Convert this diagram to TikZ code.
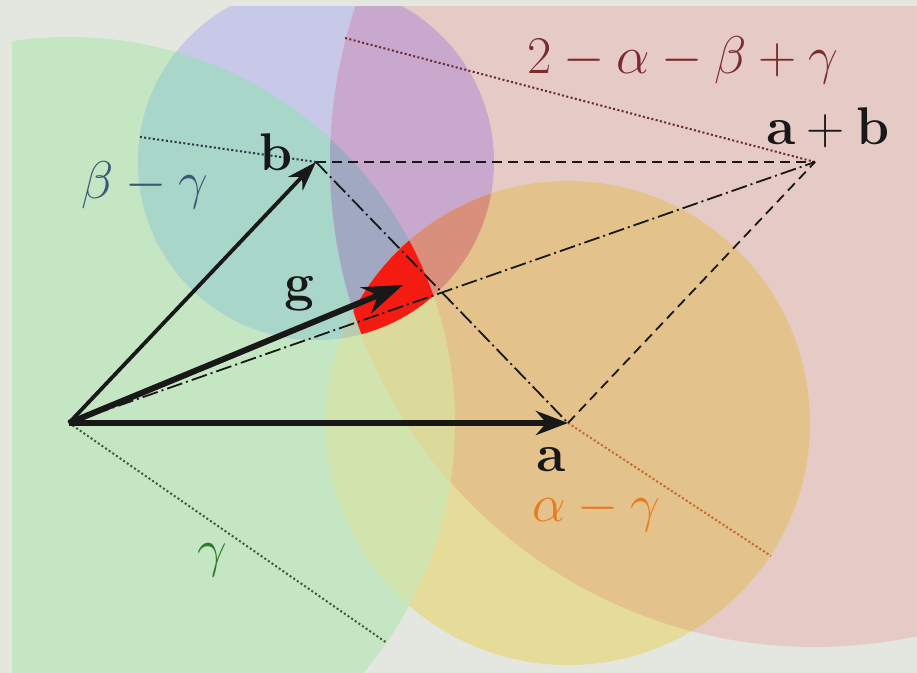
\RequirePackage{fix-cm}
\documentclass[tikz,border=0pt]{standalone}
\usetikzlibrary{arrows.meta}
\definecolor{bgc}{HTML}{E4E6E0}
\definecolor{cG}{HTML}{C4E6C2}
\definecolor{cB}{HTML}{C8C8E8}
\definecolor{cP}{HTML}{E6CAC6}
\definecolor{cY}{HTML}{E4DC98}
\definecolor{cGB}{HTML}{A8D6C8}
\definecolor{cGP}{HTML}{D2D8BC}
\definecolor{cGY}{HTML}{D2E4AE}
\definecolor{cBP}{HTML}{C8A8CC}
\definecolor{cBY}{HTML}{D8B8A8}
\definecolor{cYP}{HTML}{E4C28C}
\definecolor{cGBP}{HTML}{A0A8C2}
\definecolor{cGBY}{HTML}{B8CCB0}
\definecolor{cGYP}{HTML}{DCDA9A}
\definecolor{cBPY}{HTML}{D8907C}
\definecolor{cAll}{HTML}{F41C12}
\definecolor{tB}{HTML}{3C5878}
\definecolor{tP}{HTML}{7A2C2C}
\definecolor{tY}{HTML}{E87A22}
\definecolor{tG}{HTML}{2E7A2E}
\definecolor{dG}{HTML}{3A5A3A}
\definecolor{dB}{HTML}{303048}
\definecolor{dP}{HTML}{6A2A2A}
\definecolor{dY}{HTML}{C06828}
\definecolor{ink}{HTML}{181818}
\newcommand\PathG{(O) circle[radius=193pt]}
\newcommand\PathB{(B) circle[radius=89pt]}
\newcommand\PathP{(AB) circle[radius=242.5pt]}
\newcommand\PathY{(A) circle[radius=121pt]}
\begin{document}
\begin{tikzpicture}[x=0.5pt,y=0.5pt,
  lbl/.style={inner sep=0pt, font=\fontsize{26.5}{30}\selectfont},
  vec/.style={draw=ink, line width=3pt},
  dashedline/.style={draw=ink, line width=0.9pt, dash pattern=on 5pt off 3pt},
  dashdot/.style={draw=ink, line width=0.9pt, dash pattern=on 8pt off 2pt on 1pt off 2pt},
  dottedline/.style={line width=1pt, dash pattern=on 1pt off 1.2pt}]
\useasboundingbox (0,0) rectangle (917,673);
\fill[bgc] (0,0) rectangle (917,673);
% points
\coordinate (O) at (69,250);
\coordinate (A) at (568,250);
\coordinate (B) at (316,511);
\coordinate (AB) at (815,511);
\coordinate (Gt) at (403,388);
\coordinate (rG) at (387,30);
\coordinate (rB) at (140,536);
\coordinate (rP) at (345,635);
\coordinate (rY) at (771,117);
% regions
\begin{scope}
\clip (12,0) rectangle (917,666);
\fill[cG] \PathG;
\fill[cB] \PathB;
\fill[cP] \PathP;
\fill[cY] \PathY;
\begin{scope}\clip \PathG; \fill[cGB] \PathB; \end{scope}
\begin{scope}\clip \PathG; \fill[cGP] \PathP; \end{scope}
\begin{scope}\clip \PathG; \fill[cGY] \PathY; \end{scope}
\begin{scope}\clip \PathB; \fill[cBP] \PathP; \end{scope}
\begin{scope}\clip \PathB; \fill[cBY] \PathY; \end{scope}
\begin{scope}\clip \PathY; \fill[cYP] \PathP; \end{scope}
\begin{scope}\clip \PathG; \clip \PathB; \fill[cGBP] \PathP; \end{scope}
\begin{scope}\clip \PathG; \clip \PathB; \fill[cGBY] \PathY; \end{scope}
\begin{scope}\clip \PathG; \clip \PathY; \fill[cGYP] \PathP; \end{scope}
\begin{scope}\clip \PathB; \clip \PathY; \fill[cBPY] \PathP; \end{scope}
\begin{scope}\clip \PathG; \clip \PathB; \clip \PathY; \fill[cAll] \PathP; \end{scope}
\end{scope}
% radii
\draw[dottedline, dG] (O) -- (rG);
\draw[dottedline, dB] (B) -- (rB);
\draw[dottedline, dP] (AB) -- (rP);
\draw[dottedline, dY] (A) -- (rY);
% parallelogram
\draw[dashedline] (B) -- (AB);
\draw[dashedline] (A) -- (AB);
\draw[dashdot] (B) -- (A);
\draw[dashdot] (O) -- (AB);
% vectors
\draw[vec, -{Stealth[length=16pt,width=12pt]}] (O) -- (A);
\draw[vec, line width=1.9pt, -{Stealth[length=15pt,width=10pt]}] (O) -- (B);
\draw[vec, -{Stealth[length=20pt,width=14pt]}] (O) -- (Gt);
% labels
\node[lbl, text=ink] (lb) at (276,521) {$\mathbf{b}$};
\node[lbl, text=ink] (lab) at (828,545) {$\mathbf{a}+\mathbf{b}$};
\node[lbl, text=ink] (la) at (551,213) {$\mathbf{a}$};
\node[lbl, text=ink] (lg) at (300,379) {$\mathbf{g}$};
\node[lbl, text=tP] (lP) at (683,613) {$2-\alpha-\beta+\gamma$};
\node[lbl, text=tB] (lB) at (145,488) {$\beta-\gamma$};
\node[lbl, text=tY] (lY) at (596,162) {$\alpha-\gamma$};
\node[lbl, text=tG] (lG) at (212,113) {$\gamma$};
\end{tikzpicture}
\end{document}
